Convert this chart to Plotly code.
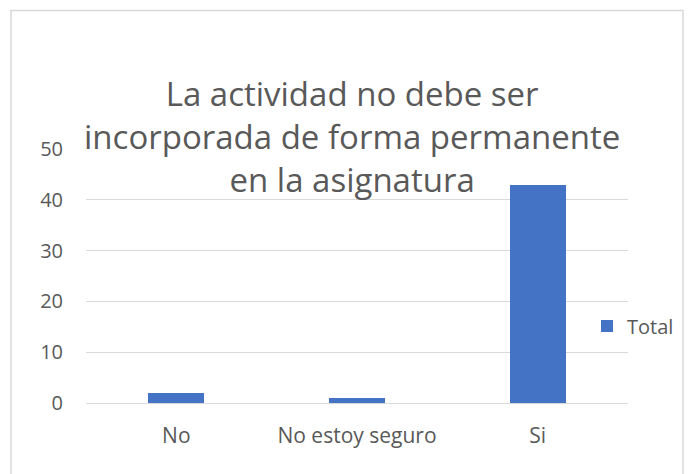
import plotly.graph_objects as go

categories = ["No", "No estoy seguro", "Si"]
values = [2, 1, 43]
series_name = "Total"
title_lines = ["La actividad no debe ser", "incorporada de forma permanente", "en la asignatura"]
y_ticks = [0, 10, 20, 30, 40, 50]

W, H = 689, 474
L, R, T, B = 86, 61, 149, 71
pw, ph = W - L - R, H - T - B

def px(x):
    return (x - L) / pw

def py(y):
    return (H - B - y) / ph

FONT = "Open Sans"
GREY = "#595959"

fig = go.Figure()
fig.add_trace(go.Bar(
    x=categories, y=values, name=series_name,
    marker=dict(color="#4472C4", line=dict(width=0)),
    width=0.31,
))

fig.update_layout(
    width=W, height=H,
    margin=dict(l=L, r=R, t=T, b=B, autoexpand=False),
    paper_bgcolor="white", plot_bgcolor="white",
    font=dict(family=FONT, color=GREY, size=20),
    showlegend=True,
    legend=dict(x=px(587), y=py(326), xanchor="left", yanchor="middle",
                font=dict(size=20, color=GREY), bgcolor="rgba(0,0,0,0)",
                itemwidth=30, traceorder="normal"),
    xaxis=dict(showgrid=False, showline=False, ticks="", tickfont=dict(size=21, color=GREY),
               ticklabelstandoff=18),
    yaxis=dict(range=[0, 50], tickvals=y_ticks, showgrid=True, gridcolor="#D9D9D9",
               gridwidth=1, zeroline=True, zerolinecolor="#D9D9D9", zerolinewidth=1,
               showline=False, ticks="", ticklabelstandoff=22,
               tickfont=dict(size=20, color=GREY)),
    bargap=0,
)

fig.add_annotation(
    text="<br>".join(title_lines), showarrow=False,
    xref="paper", yref="paper", x=px(352), y=py(69),
    xanchor="center", yanchor="top", align="center",
    font=dict(size=33, color=GREY, family=FONT),
)

fig.add_shape(type="rect", xref="paper", yref="paper",
              x0=px(11), x1=px(683), y0=py(478), y1=py(10.5),
              line=dict(color="#D9D9D9", width=1.5), fillcolor="rgba(0,0,0,0)",
              layer="below")

fig.write_html("out.html", config={"displayModeBar": False},
               post_script="document.body.style.margin='0';document.body.style.overflow='hidden';")
